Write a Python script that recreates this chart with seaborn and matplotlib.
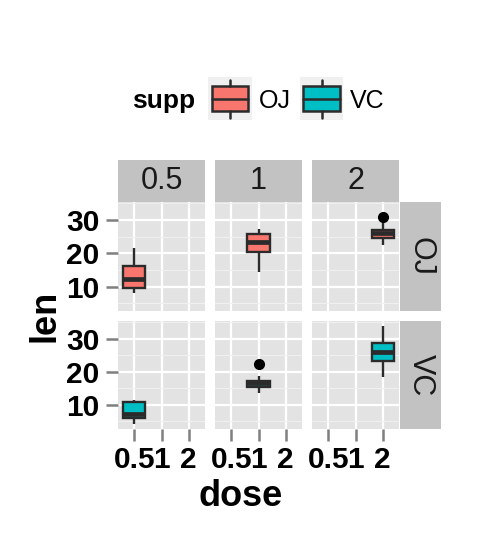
import numpy as np
import pandas as pd
import matplotlib
matplotlib.use("Agg")
import matplotlib.pyplot as plt
from matplotlib.patches import Rectangle
import seaborn as sns

# ToothGrowth values
doses = ["0.5", "1", "2"]
supps = ["OJ", "VC"]
fills = {"OJ": "#F8766D", "VC": "#00BFC4"}

oj_05 = [15.2, 21.5, 17.6, 9.7, 14.5, 10.0, 8.2, 9.4, 16.5, 9.7]
oj_1 = [19.7, 23.3, 23.6, 26.4, 20.0, 25.2, 25.8, 21.2, 14.5, 27.3]
oj_2 = [25.5, 26.4, 22.4, 24.5, 24.8, 30.9, 26.4, 27.3, 29.4, 23.0]
vc_05 = [4.2, 11.5, 7.3, 5.8, 6.4, 10.0, 11.2, 11.2, 5.2, 7.0]
vc_1 = [16.5, 16.5, 15.2, 17.3, 22.5, 17.3, 13.6, 14.5, 18.8, 15.5]
vc_2 = [23.6, 18.5, 33.9, 25.5, 26.4, 32.5, 26.7, 21.5, 23.3, 29.5]

groups = {("OJ", "0.5"): oj_05, ("OJ", "1"): oj_1, ("OJ", "2"): oj_2,
          ("VC", "0.5"): vc_05, ("VC", "1"): vc_1, ("VC", "2"): vc_2}

rows = []
for (s, d), vals in groups.items():
    for v in vals:
        rows.append({"supp": s, "dose": d, "len": v})
df = pd.DataFrame(rows)

sns.set_style("white")
plt.rcParams["font.family"] = ["Liberation Sans", "DejaVu Sans"]
plt.rcParams["text.color"] = "black"
plt.rcParams["xtick.labelcolor"] = "black"
plt.rcParams["ytick.labelcolor"] = "black"

W, H = 480, 537
fig = plt.figure(figsize=(W / 100, H / 100), dpi=100)


def rect(x0, y0, x1, y1):
    return [x0 / W, 1 - y1 / H, (x1 - x0) / W, (y1 - y0) / H]


cols_px = [(118, 205), (215, 302), (312, 399)]
rows_px = [(202, 311), (321, 429)]
strip_bg = "#C2C2C2"
panel_bg = "#E3E3E3"

lo, hi = df["len"].min(), df["len"].max()
pad = 0.05 * (hi - lo)

for i, s in enumerate(supps):
    for j, d in enumerate(doses):
        x0, x1 = cols_px[j]
        y0, y1 = rows_px[i]
        ax = fig.add_axes(rect(x0, y0, x1, y1))
        sub = df[(df["supp"] == s) & (df["dose"] == d)]
        sns.boxplot(data=sub, x="dose", y="len", order=doses, color=fills[s],
                    saturation=1, width=0.82, linecolor="#2B2B2B", linewidth=1.7,
                    showcaps=False, fliersize=7,
                    flierprops=dict(marker="o", markerfacecolor="black",
                                    markeredgecolor="black"),
                    medianprops=dict(linewidth=3.4), ax=ax)
        ax.set_facecolor(panel_bg)
        ax.set_xlim(-0.6, 2.6)
        ax.set_ylim(lo - pad, hi + pad)
        ax.set_yticks([10, 20, 30])
        ax.set_yticks([5, 15, 25, 35], minor=True)
        ax.set_xticks(range(3))
        ax.grid(which="major", color="white", linewidth=1.6)
        ax.grid(which="minor", axis="y", color="#F0F0F0", linewidth=0.8)
        ax.set_axisbelow(True)
        for sp in ax.spines.values():
            sp.set_visible(False)
        ax.set_xlabel("")
        ax.set_ylabel("")
        ax.tick_params(which="minor", length=0)
        ax.tick_params(which="major", length=8.3, width=1.8, color="#7F7F7F")
        if j == 0:
            ax.set_yticklabels(["10", "20", "30"], fontsize=21.5, fontweight="bold")
            ax.tick_params(axis="y", left=True, labelleft=True, pad=5)
        else:
            ax.tick_params(axis="y", left=False, labelleft=False)
        if i == 1:
            ax.set_xticklabels(doses, fontsize=21.5, fontweight="bold")
            ax.tick_params(axis="x", bottom=True, labelbottom=True, pad=4)
        else:
            ax.tick_params(axis="x", bottom=False, labelbottom=False)

# top strips
for j, d in enumerate(doses):
    x0, x1 = cols_px[j]
    sax = fig.add_axes(rect(x0, 160, x1, 202))
    sax.set_facecolor(strip_bg)
    sax.set_xticks([])
    sax.set_yticks([])
    for sp in sax.spines.values():
        sp.set_visible(False)
    sax.text(0.5, 0.5, d, ha="center", va="center", fontsize=22,
             color="#1A1A1A", transform=sax.transAxes)

# right strips
for i, s in enumerate(supps):
    y0, y1 = rows_px[i]
    sax = fig.add_axes(rect(400, y0, 441, y1))
    sax.set_facecolor(strip_bg)
    sax.set_xticks([])
    sax.set_yticks([])
    for sp in sax.spines.values():
        sp.set_visible(False)
    sax.text(0.5, 0.5, s, ha="center", va="center", fontsize=22, rotation=-90,
             color="#1A1A1A", transform=sax.transAxes)

# axis titles
fig.text(45 / W, 1 - 316 / H, "len", rotation=90, ha="center", va="center",
         fontsize=26, fontweight="bold")
fig.text(241 / W, 1 - 497 / H, "dose", ha="center", va="center",
         fontsize=26, fontweight="bold")

# legend on top
fig.text(132 / W, 1 - 101 / H, "supp", ha="left", va="center",
         fontsize=19, fontweight="bold")
key_pos = {"OJ": (208, 252, 259), "VC": (300, 343, 350)}
for s in supps:
    kx0, kx1, tx = key_pos[s]
    kax = fig.add_axes(rect(kx0, 77, kx1, 120))
    kax.set_facecolor("#F0F0F0")
    kax.set_xlim(0, 1)
    kax.set_ylim(0, 1)
    kax.set_xticks([])
    kax.set_yticks([])
    for sp in kax.spines.values():
        sp.set_visible(False)
    kax.plot([0.5, 0.5], [0.04, 0.21], color="#2B2B2B", lw=1.8)
    kax.plot([0.5, 0.5], [0.785, 0.94], color="#2B2B2B", lw=1.8)
    kax.add_patch(Rectangle((0.08, 0.21), 0.84, 0.575, facecolor=fills[s],
                            edgecolor="#2B2B2B", lw=1.8))
    kax.plot([0.08, 0.92], [0.5, 0.5], color="#2B2B2B", lw=1.8)
    fig.text(tx / W, 1 - 101 / H, s, ha="left", va="center", fontsize=18)

fig.savefig("out.png", dpi=100)
